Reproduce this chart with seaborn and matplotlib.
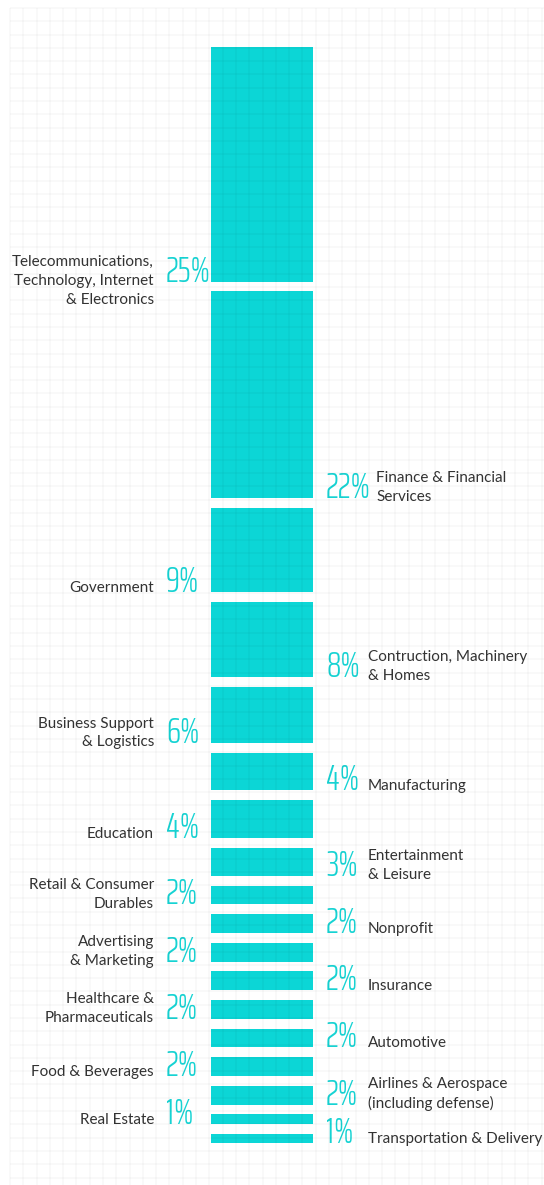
import matplotlib
matplotlib.use("Agg")
import matplotlib.pyplot as plt
import numpy as np
import seaborn as sns

# Share of respondents by industry, top to bottom
sectors = [
    "Telecommunications,\nTechnology, Internet\n& Electronics",
    "Finance & Financial\nServices",
    "Government",
    "Contruction, Machinery\n& Homes",
    "Business Support\n& Logistics",
    "Manufacturing",
    "Education",
    "Entertainment\n& Leisure",
    "Retail & Consumer\nDurables",
    "Nonprofit",
    "Advertising\n& Marketing",
    "Insurance",
    "Healthcare &\nPharmaceuticals",
    "Automotive",
    "Food & Beverages",
    "Airlines & Aerospace\n(including defense)",
    "Real Estate",
    "Transportation & Delivery",
]
shares = [25, 22, 9, 8, 6, 4, 4, 3, 2, 2, 2, 2, 2, 2, 2, 2, 1, 1]

BAR = "#0CD6D6"
PCT = "#16D3D3"
INK = "#333333"
GAP = 1.05          # space between stacked segments, in share units

W, H, DPI = 544, 1185, 100
PX_PER_UNIT_Y = 9.38
TOP_PX = 47
BAR_LEFT_PX, BAR_RIGHT_PX = 211, 313
LINE_PX = 18.5

sns.set_theme(style="white")
fig = plt.figure(figsize=(W / DPI, H / DPI), dpi=DPI)
fig.patch.set_facecolor("white")
ax = fig.add_axes([0, 0, 1, 1])
ax.set_facecolor("none")

starts = np.cumsum([0] + shares[:-1]) + GAP * np.arange(len(shares))
ends = starts + np.array(shares)

for s, v in zip(starts, shares):
    sns.barplot(x=[0], y=[v], bottom=s, color=BAR, saturation=1, width=1.0,
                linewidth=0, ax=ax)

# map the data space onto the figure
unit_x = BAR_RIGHT_PX - BAR_LEFT_PX
ax.set_xlim(-0.5 - BAR_LEFT_PX / unit_x, 0.5 + (W - BAR_RIGHT_PX) / unit_x)
ax.set_ylim((H - TOP_PX) / PX_PER_UNIT_Y, -TOP_PX / PX_PER_UNIT_Y)
ax.set_axis_off()

pct_font = dict(family=["Saira ExtraCondensed", "DejaVu Sans"], weight=300, fontsize=26, color=PCT)
cat_font = dict(family=["Lato", "DejaVu Sans"], fontsize=11, color=INK, linespacing=1.45)


def label_shift(name):
    """Vertical offset (px) of the last line's baseline from the segment's lower edge."""
    n = name.count("\n") + 1
    return 0 if n == 1 else 15 - (n - 1) * LINE_PX


right_pairs = []
for i, (name, v, e) in enumerate(zip(sectors, shares, ends)):
    dy = label_shift(name)
    if i % 2 == 0:
        ax.annotate(f"{v}%", xy=(-0.5, e), xytext=(-45, 0), textcoords="offset pixels",
                    ha="left", va="baseline", **pct_font)
        ax.annotate(name, xy=(-0.5, e), xytext=(-57, dy), textcoords="offset pixels",
                    ha="right", va="baseline", multialignment="right", **cat_font)
    else:
        t = ax.annotate(f"{v}%", xy=(0.5, e), xytext=(13, 0), textcoords="offset pixels",
                        ha="left", va="baseline", **pct_font)
        right_pairs.append((t, name, e, dy))

fig.canvas.draw()
renderer = fig.canvas.get_renderer()
for t, name, e, dy in right_pairs:
    pct_right = t.get_window_extent(renderer).x1
    dx = max(55, pct_right - BAR_RIGHT_PX + 5)
    ax.annotate(name, xy=(0.5, e), xytext=(dx, dy), textcoords="offset pixels",
                ha="left", va="baseline", multialignment="left", **cat_font)

# faint square grid laid over the whole sheet
grid = fig.add_axes([0, 0, 1, 1], zorder=5)
grid.set_xlim(0, W)
grid.set_ylim(H, 0)
grid.patch.set_alpha(0)
grid.set_axis_off()
step = 13.29
gx = np.arange(10, W, step)
gy = np.arange(8, H, step)
grid.vlines(gx, 8, H, color="black", alpha=0.022, linewidth=1.5)
grid.hlines(gy, 10, W, color="black", alpha=0.022, linewidth=1.5)

fig.savefig("out.png", dpi=DPI)
